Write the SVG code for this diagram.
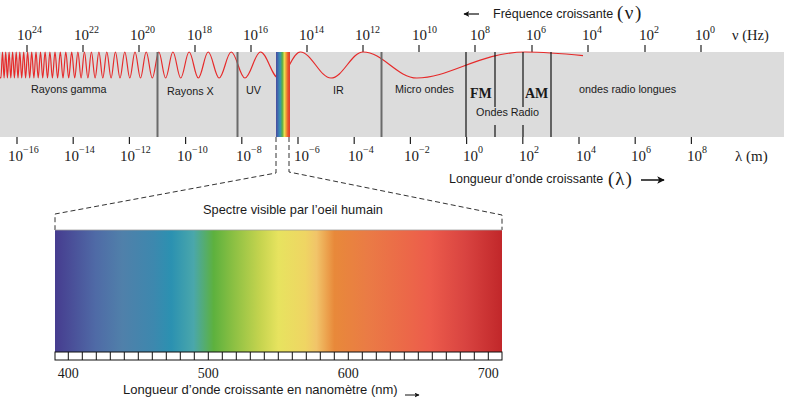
<svg xmlns="http://www.w3.org/2000/svg" width="800" height="400" viewBox="0 0 800 400">
<defs>
<style>
.sans{font-family:"Liberation Sans","Open Sans",sans-serif;fill:#1a1a1a}
.serif{font-family:"Liberation Serif","DejaVu Serif",serif;fill:#1a1a1a}
.num{font-family:"Liberation Serif","DejaVu Serif",serif;font-size:15px;fill:#1a1a1a}
.sup{font-size:10px}
.tick{stroke:#222;stroke-width:1.2}
.div{stroke:#6a6a6a;stroke-width:2}
.blk{stroke:#111;stroke-width:1.2}
.dash{stroke:#333;stroke-width:1;stroke-dasharray:5 3;fill:none}
.arr{stroke:#111;fill:none}
</style>
<linearGradient id="vis" x1="0" y1="0" x2="1" y2="0">
<stop offset="0" stop-color="#463c8f"/>
<stop offset="0.09" stop-color="#4f6aa6"/>
<stop offset="0.15" stop-color="#5080aa"/>
<stop offset="0.22" stop-color="#3d88ae"/>
<stop offset="0.26" stop-color="#2b91b1"/>
<stop offset="0.31" stop-color="#4aa7ab"/>
<stop offset="0.355" stop-color="#5db13e"/>
<stop offset="0.40" stop-color="#8cc043"/>
<stop offset="0.46" stop-color="#c6d44f"/>
<stop offset="0.5" stop-color="#e7e35f"/>
<stop offset="0.56" stop-color="#efd563"/>
<stop offset="0.585" stop-color="#f1c469"/>
<stop offset="0.625" stop-color="#e8893a"/>
<stop offset="0.7" stop-color="#ea7b45"/>
<stop offset="0.8" stop-color="#ec6549"/>
<stop offset="0.84" stop-color="#ec5b4b"/>
<stop offset="0.92" stop-color="#d84340"/>
<stop offset="1" stop-color="#c1272a"/>
</linearGradient>
<linearGradient id="strip" x1="0" y1="0" x2="1" y2="0">
<stop offset="0" stop-color="#4a4a9e"/>
<stop offset="0.15" stop-color="#3d6fb0"/>
<stop offset="0.3" stop-color="#3996b0"/>
<stop offset="0.45" stop-color="#5aae45"/>
<stop offset="0.6" stop-color="#e6df55"/>
<stop offset="0.72" stop-color="#f0a035"/>
<stop offset="0.85" stop-color="#e8582e"/>
<stop offset="1" stop-color="#e03a2e"/>
</linearGradient>
<marker id="ah" viewBox="0 0 10 10" refX="9" refY="5" markerWidth="5" markerHeight="5" orient="auto-start-reverse">
<path d="M0,0 L10,5 L0,10 L2.5,5 Z" fill="#111"/>
</marker>
</defs>

<rect width="800" height="400" fill="#ffffff"/>

<g id="frequency-axis">
<text class="sans" x="493" y="18" font-size="12.5">Fréquence croissante</text>
<text class="serif" x="617" y="19" font-size="19" letter-spacing="1.5">(ν)</text>
<g class="tick">
<line x1="27" y1="45" x2="27" y2="52"/><line x1="83" y1="45" x2="83" y2="52"/><line x1="139" y1="45" x2="139" y2="52"/><line x1="195" y1="45" x2="195" y2="52"/><line x1="251" y1="45" x2="251" y2="52"/><line x1="307" y1="45" x2="307" y2="52"/><line x1="363" y1="45" x2="363" y2="52"/><line x1="419" y1="45" x2="419" y2="52"/><line x1="475" y1="45" x2="475" y2="52"/><line x1="532" y1="45" x2="532" y2="52"/><line x1="588" y1="45" x2="588" y2="52"/><line x1="645" y1="45" x2="645" y2="52"/><line x1="701" y1="45" x2="701" y2="52"/>
</g>
<text class="num" x="17" y="40">10<tspan class="sup" dy="-7">24</tspan></text>
<text class="num" x="74" y="40">10<tspan class="sup" dy="-7">22</tspan></text>
<text class="num" x="130" y="40">10<tspan class="sup" dy="-7">20</tspan></text>
<text class="num" x="187" y="40">10<tspan class="sup" dy="-7">18</tspan></text>
<text class="num" x="243" y="40">10<tspan class="sup" dy="-7">16</tspan></text>
<text class="num" x="299" y="40">10<tspan class="sup" dy="-7">14</tspan></text>
<text class="num" x="355" y="40">10<tspan class="sup" dy="-7">12</tspan></text>
<text class="num" x="412" y="40">10<tspan class="sup" dy="-7">10</tspan></text>
<text class="num" x="470" y="40">10<tspan class="sup" dy="-7">8</tspan></text>
<text class="num" x="526" y="40">10<tspan class="sup" dy="-7">6</tspan></text>
<text class="num" x="582" y="40">10<tspan class="sup" dy="-7">4</tspan></text>
<text class="num" x="639" y="40">10<tspan class="sup" dy="-7">2</tspan></text>
<text class="num" x="695" y="40">10<tspan class="sup" dy="-7">0</tspan></text>
<text class="serif" x="732" y="40" font-size="14.5">ν (Hz)</text>
</g>

<g id="spectrum-band">
<rect x="0" y="52" width="784" height="85" fill="#dcdcdc"/>
<path id="wave" fill="none" stroke="#e62a2a" stroke-width="1.2" d="M0,77.5 L0.9,78 C1.48,78 1.92,52 2.5,52 C3.08,52 3.52,78 4.1,78 C4.68,78 5.12,52 5.7,52 C6.32,52 6.78,78 7.4,78 C8.02,78 8.48,52 9.1,52 C9.72,52 10.18,78 10.8,78 C11.46,78 11.94,52 12.6,52 C13.26,52 13.74,78 14.4,78 C15.06,78 15.54,52 16.2,52 C16.86,52 17.34,78 18,78 C18.66,78 19.14,52 19.8,52 C20.49,52 21.01,78 21.7,78 C22.43,78 22.97,52 23.7,52 C24.39,52 24.91,78 25.6,78 C26.33,78 26.87,52 27.6,52 C28.36,52 28.94,78 29.7,78 C30.43,78 30.97,52 31.7,52 C32.5,52 33.1,78 33.9,78 C34.66,78 35.24,52 36,52 C36.8,52 37.4,78 38.2,78 C39.04,78 39.66,52 40.5,52 C41.3,52 41.9,78 42.7,78 C43.57,78 44.23,52 45.1,52 C45.97,52 46.63,78 47.5,78 C48.37,78 49.03,52 49.9,52 C50.81,52 51.49,78 52.4,78 C53.35,78 54.05,52 55,52 C55.95,52 56.65,78 57.6,78 C58.58,78 59.32,52 60.3,52 C61.28,52 62.02,78 63,78 C64.02,78 64.78,52 65.8,52 C66.86,52 67.64,78 68.7,78 C69.79,78 70.61,52 71.7,52 C72.79,52 73.61,78 74.7,78 C75.86,78 76.74,52 77.9,52 C79.06,52 79.94,78 81.1,78 C82.3,78 83.2,52 84.4,52 C85.67,52 86.63,78 87.9,78 C89.17,78 90.13,52 91.4,52 C92.75,52 93.75,78 95.1,78 C96.48,78 97.52,52 98.9,52 C100.32,52 101.38,78 102.8,78 C104.26,78 105.34,52 106.8,52 C108.37,52 109.53,78 111.1,78 C112.67,78 113.83,52 115.4,52 C117.07,52 118.33,78 120,78 C121.75,78 123.05,52 124.8,52 C126.62,52 127.98,78 129.8,78 C131.69,78 133.11,52 135,52 C137,52 138.5,78 140.5,78 C142.57,78 144.13,52 146.2,52 C148.42,52 150.08,78 152.3,78 C154.67,78 156.43,52 158.8,52 C161.28,52 163.12,78 165.6,78 C168.26,78 170.24,52 172.9,52 C175.74,52 177.86,78 180.7,78 C183.76,78 186.04,52 189.1,52 C192.45,52 194.95,78 198.3,78 C201.9,78 204.6,52 208.2,52 C212.17,52 215.13,78 219.1,78 C223.5,78 226.8,52 231.2,52 C236.19,52 239.91,78 244.9,78 C250.54,78 254.76,52 260.4,52 C266.99,52 271.91,78 278.5,78 C286.44,78 292.36,52 300.3,52 C311.47,52 319.83,78 331,78 C342.72,78 351.48,52 363.2,52 C382.7,52 397.3,78 416.8,78 C450,78 480,52 525.4,52 C545,52 565,53.8 583,55.6"/>
<rect x="276" y="52" width="14" height="85" fill="url(#strip)"/>
<g id="dividers">
<line class="div" x1="157.5" y1="52" x2="157.5" y2="137"/>
<line class="div" x1="237.5" y1="52" x2="237.5" y2="137"/>
<line class="div" x1="381.5" y1="52" x2="381.5" y2="137"/>
<line class="blk" x1="466" y1="52" x2="466" y2="137" stroke-width="1.6"/>
<line class="blk" x1="495" y1="52" x2="495" y2="107"/>
<line class="blk" x1="495" y1="125" x2="495" y2="137"/>
<line class="blk" x1="523" y1="52" x2="523" y2="107"/>
<line class="blk" x1="523" y1="125" x2="523" y2="137"/>
<line class="blk" x1="551" y1="52" x2="551" y2="137"/>
</g>
<g id="band-labels" font-size="10.8">
<text class="sans" x="31" y="93">Rayons gamma</text>
<text class="sans" x="167" y="95">Rayons X</text>
<text class="sans" x="246" y="93.5">UV</text>
<text class="sans" x="333" y="94">IR</text>
<text class="sans" x="395" y="93">Micro ondes</text>
<text class="serif" x="470" y="98" font-size="14" font-weight="bold">FM</text>
<text class="serif" x="525" y="98" font-size="14" font-weight="bold">AM</text>
<text class="sans" x="476" y="116">Ondes Radio</text>
<text class="sans" x="579" y="93">ondes radio longues</text>
</g>
</g>

<g id="wavelength-axis">
<g class="tick">
<line x1="17" y1="137" x2="17" y2="144"/><line x1="73.2" y1="137" x2="73.2" y2="144"/><line x1="129.4" y1="137" x2="129.4" y2="144"/><line x1="185.6" y1="137" x2="185.6" y2="144"/><line x1="241.8" y1="137" x2="241.8" y2="144"/><line x1="298" y1="137" x2="298" y2="144"/><line x1="354.2" y1="137" x2="354.2" y2="144"/><line x1="410.4" y1="137" x2="410.4" y2="144"/><line x1="466.6" y1="137" x2="466.6" y2="144"/><line x1="522.8" y1="137" x2="522.8" y2="144"/><line x1="579" y1="137" x2="579" y2="144"/><line x1="635.2" y1="137" x2="635.2" y2="144"/><line x1="691.4" y1="137" x2="691.4" y2="144"/>
</g>
<text class="num" x="8" y="161">10<tspan class="sup" dy="-8">−16</tspan></text>
<text class="num" x="64" y="161">10<tspan class="sup" dy="-8">−14</tspan></text>
<text class="num" x="120" y="161">10<tspan class="sup" dy="-8">−12</tspan></text>
<text class="num" x="177" y="161">10<tspan class="sup" dy="-8">−10</tspan></text>
<text class="num" x="236" y="161">10<tspan class="sup" dy="-8">−8</tspan></text>
<text class="num" x="294" y="161">10<tspan class="sup" dy="-8">−6</tspan></text>
<text class="num" x="348" y="161">10<tspan class="sup" dy="-8">−4</tspan></text>
<text class="num" x="404" y="161">10<tspan class="sup" dy="-8">−2</tspan></text>
<text class="num" x="463" y="161">10<tspan class="sup" dy="-8">0</tspan></text>
<text class="num" x="519" y="161">10<tspan class="sup" dy="-8">2</tspan></text>
<text class="num" x="576" y="161">10<tspan class="sup" dy="-8">4</tspan></text>
<text class="num" x="631" y="161">10<tspan class="sup" dy="-8">6</tspan></text>
<text class="num" x="687" y="161">10<tspan class="sup" dy="-8">8</tspan></text>
<text class="serif" x="735" y="161" font-size="15">λ (m)</text>
<text class="sans" x="449" y="183" font-size="12.5">Longueur d’onde croissante</text>
<text class="serif" x="608" y="185" font-size="19" letter-spacing="1">(λ)</text>
</g>

<g id="connectors">
<path class="arr" d="M479,14 H464" stroke-width="1.2" marker-end="url(#ah)"/>
<path class="arr" d="M641,180 H664" stroke-width="1.5" marker-end="url(#ah)"/>
<path class="arr" d="M405,395 H419" stroke-width="1" marker-end="url(#ah)"/>
<path class="dash" d="M276,137 V173 L55,214 V230"/>
<path class="dash" d="M289,137 V172 L502,215 V230"/>
</g>

<g id="visible-spectrum">
<text class="sans" x="293" y="214" font-size="12.8" text-anchor="middle">Spectre visible par l’oeil humain</text>
<rect x="55" y="230" width="447" height="122" fill="url(#vis)"/>
<line x1="55" y1="230" x2="502" y2="230" stroke="#a0a0a0" stroke-width="0.8"/>
<rect x="55" y="352" width="447" height="8" fill="#ffffff" stroke="#111" stroke-width="1"/>
<path stroke="#111" stroke-width="1" d="M68.3,352V360M82.3,352V360M96.3,352V360M110.3,352V360M124.3,352V360M138.3,352V360M152.3,352V360M166.3,352V360M180.3,352V360M194.3,352V360M208.3,352V360M222.3,352V360M236.3,352V360M250.3,352V360M264.3,352V360M278.3,352V360M292.3,352V360M306.3,352V360M320.3,352V360M334.3,352V360M348.3,352V360M362.3,352V360M376.3,352V360M390.3,352V360M404.3,352V360M418.3,352V360M432.3,352V360M446.3,352V360M460.3,352V360M474.3,352V360M488.3,352V360"/>
<text class="serif" x="68.3" y="378" font-size="14" text-anchor="middle">400</text>
<text class="serif" x="208.3" y="378" font-size="14" text-anchor="middle">500</text>
<text class="serif" x="348.3" y="378" font-size="14" text-anchor="middle">600</text>
<text class="serif" x="488.3" y="378" font-size="14" text-anchor="middle">700</text>
<text class="sans" x="123" y="394" font-size="13">Longueur d’onde croissante en nanomètre (nm)</text>
</g>
</svg>
